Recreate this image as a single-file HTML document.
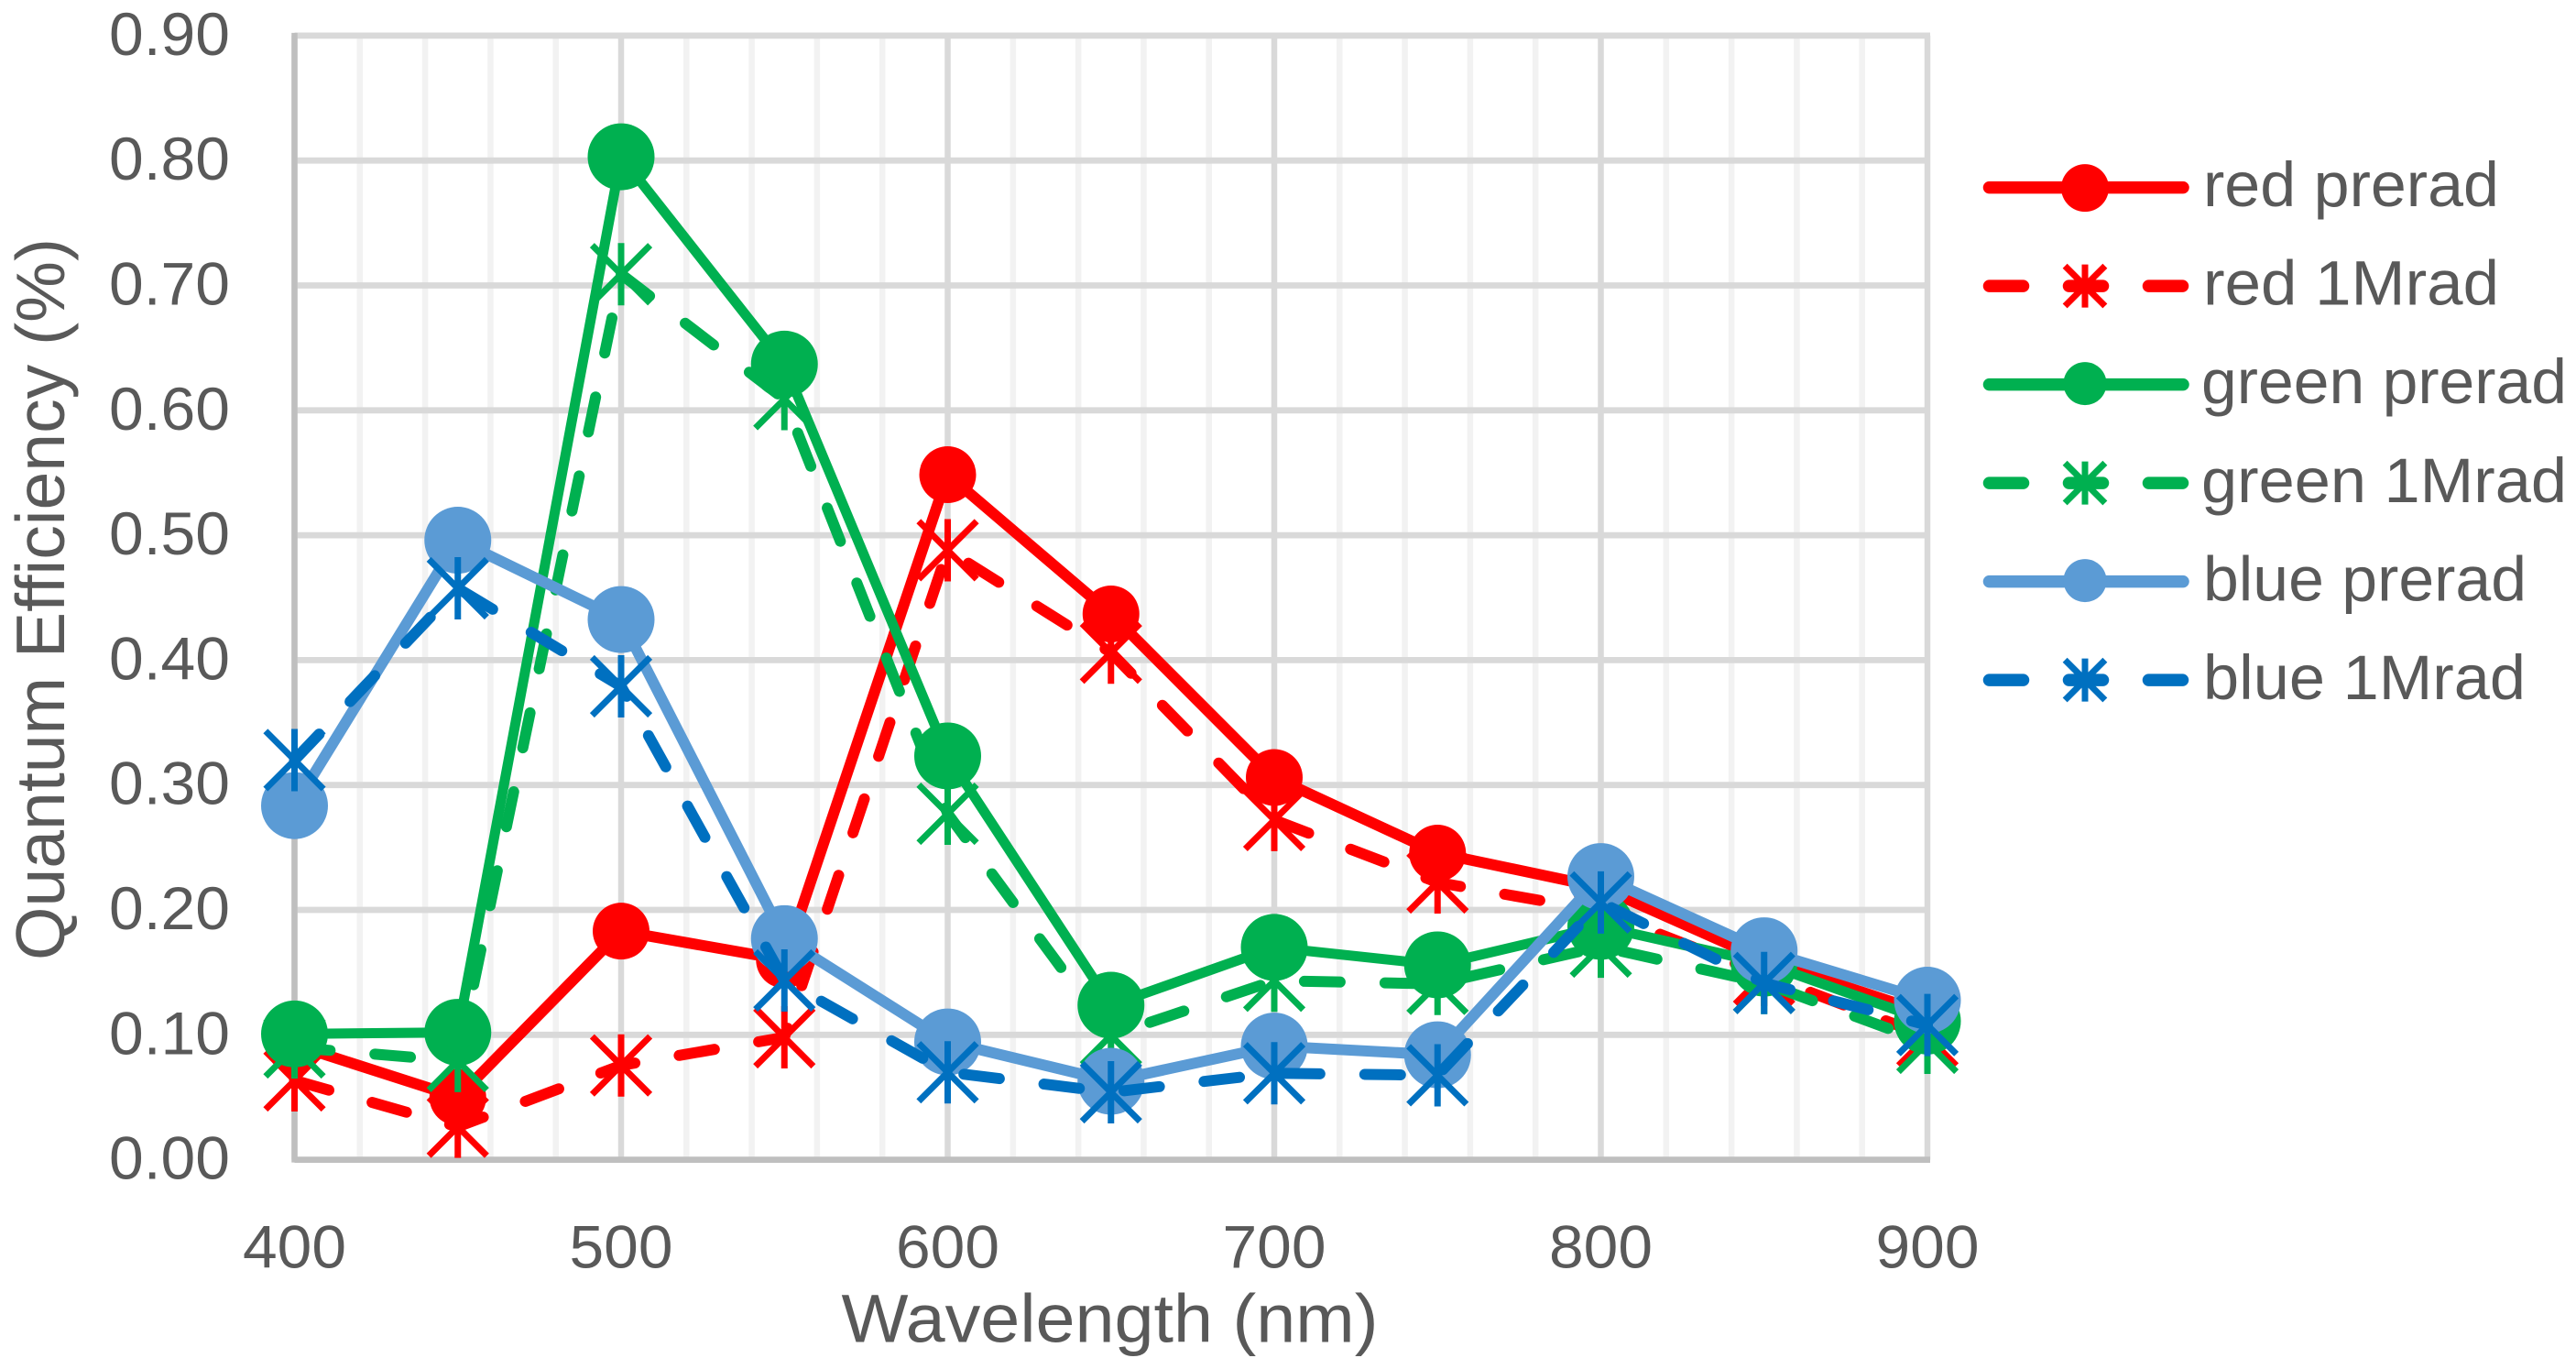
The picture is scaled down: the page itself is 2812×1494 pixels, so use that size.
<!DOCTYPE html>
<html lang="en">
<head>
<meta charset="utf-8">
<title>Quantum Efficiency vs Wavelength</title>
<style>
html,body{margin:0;padding:0;background:#fff;}
body{width:2812px;height:1494px;overflow:hidden;}
svg{display:block;}
text{font-family:"Liberation Sans",sans-serif;fill:#595959;}
</style>
</head>
<body>
<svg id="chart" xmlns="http://www.w3.org/2000/svg" width="2812" height="1494" viewBox="0 0 2812 1494"></svg>
<script>
const wavelengths = [400,450,500,550,600,650,700,750,800,850,900];
const redPrerad   = [0.092,0.050,0.183,0.160,0.5485,0.437,0.306,0.2455,0.218,0.160,0.117];
const red1Mrad    = [0.0635,0.0264,0.0755,0.098,0.488,0.406,0.272,0.222,0.199,0.148,0.0987];
const greenPrerad = [0.1007,0.102,0.803,0.637,0.3233,0.1237,0.170,0.156,0.1868,0.1574,0.111];
const green1Mrad  = [0.0899,0.079,0.709,0.609,0.277,0.0995,0.1433,0.1408,0.1706,0.1415,0.0936];
const bluePrerad  = [0.2835,0.496,0.4325,0.177,0.0943,0.0628,0.091,0.084,0.2267,0.1673,0.1277];
const blue1Mrad   = [0.320,0.4575,0.379,0.1435,0.070,0.054,0.0692,0.0676,0.206,0.1415,0.1078];
const yTicks = [0,0.1,0.2,0.3,0.4,0.5,0.6,0.7,0.8,0.9];
const yTickLabels = ["0.00","0.10","0.20","0.30","0.40","0.50","0.60","0.70","0.80","0.90"];
const xMajorTicks = [400,500,600,700,800,900];
const xTickLabels = ["400","500","600","700","800","900"];
const xMinorTicks = [420,440,460,480,520,540,560,580,620,640,660,680,720,740,760,780,820,840,860,880];
const legendLabels = ["red prerad","red 1Mrad","green prerad","green 1Mrad","blue prerad","blue 1Mrad"];

const NS = "http://www.w3.org/2000/svg";
const svg = document.getElementById("chart");
const X0 = 321.5, XS = 3.565, Y0 = 1265.6, YS = 1363;
function xAxis(v){ return X0 + (v - 400) * XS; }
function yAxis(v){ return Y0 - v * YS; }
function mk(tag, attrs, parent){
  const el = document.createElementNS(NS, tag);
  for (const k in attrs) el.setAttribute(k, attrs[k]);
  (parent || svg).appendChild(el);
  return el;
}
function slug(s){ return s.toLowerCase().replace(/\s+/g,"-"); }

/* minor vertical gridlines */
xMinorTicks.forEach(function(t){
  const el = mk("line",{x1:xAxis(t),x2:xAxis(t),y1:yAxis(0.9),y2:yAxis(0),stroke:"#f2f2f2","stroke-width":6.5});
  
  
});
/* major vertical gridlines */
xMajorTicks.forEach(function(t){
  const el = mk("line",{x1:xAxis(t),x2:xAxis(t),y1:yAxis(0.9),y2:yAxis(0),stroke:"#d9d9d9","stroke-width":6.5});
  
  
});
/* horizontal gridlines */
yTicks.forEach(function(t){
  if (t === 0) return;
  const el = mk("line",{x1:xAxis(400),x2:xAxis(900)+3,y1:yAxis(t),y2:yAxis(t),stroke:"#d9d9d9","stroke-width":6.8});
  
  
});
/* axis lines */
const yAxisLine = mk("line",{x1:xAxis(400),x2:xAxis(400),y1:yAxis(0.9)-3,y2:yAxis(0)+3,stroke:"#bfbfbf","stroke-width":6.5});


const xAxisLine = mk("line",{x1:xAxis(400),x2:xAxis(900)+3,y1:yAxis(0),y2:yAxis(0),stroke:"#bfbfbf","stroke-width":6.8});



/* tick labels */
yTicks.forEach(function(t,i){
  const el = mk("text",{x:119,y:yAxis(t)+21,"font-size":66,textLength:132,lengthAdjust:"spacingAndGlyphs"});
  el.textContent = yTickLabels[i];
  
  
});
xMajorTicks.forEach(function(t,i){
  const el = mk("text",{x:xAxis(t)-56.5,y:1383.6,"font-size":66,textLength:113,lengthAdjust:"spacingAndGlyphs"});
  el.textContent = xTickLabels[i];
  
  
});

/* axis titles */
const xTitle = mk("text",{x:918.5,y:1464.6,"font-size":74,textLength:586,lengthAdjust:"spacingAndGlyphs"});
xTitle.textContent = "Wavelength (nm)";


const yTitle = mk("text",{x:0,y:0,"font-size":75,textLength:788,lengthAdjust:"spacingAndGlyphs",transform:"translate(70 1048) rotate(-90)"});
yTitle.textContent = "Quantum Efficiency (%)";



function drawStar(g, cx, cy, half, sw, color, name){
  const d = "M"+cx+" "+(cy-half)+"V"+(cy+half)+
            "M"+(cx-half*0.93)+" "+(cy-half*0.93)+"L"+(cx+half*0.93)+" "+(cy+half*0.93)+
            "M"+(cx+half*0.93)+" "+(cy-half*0.93)+"L"+(cx-half*0.93)+" "+(cy+half*0.93);
  const el = mk("path",{d:d,fill:"none",stroke:color,"stroke-width":sw},g);
  
  
}

function drawSeries(name, values, color, dashed, radius, width){
  const g = mk("g",{});
  
  
  const pts = values.map(function(v,i){ return xAxis(wavelengths[i]).toFixed(2)+","+yAxis(v).toFixed(2); });
  const attrs = {points:pts.join(" "),fill:"none",stroke:color,"stroke-width":width,"stroke-linejoin":"round","stroke-linecap":"round"};
  if (dashed) attrs["stroke-dasharray"] = "39 49";
  const line = mk("polyline",attrs,g);
  
  
  values.forEach(function(v,i){
    const cx = xAxis(wavelengths[i]), cy = yAxis(v);
    if (dashed){
      drawStar(g, cx, cy, 34, 7, color, name + '-point');
    } else {
      const c = mk("circle",{cx:cx,cy:cy,r:radius,fill:color},g);
      
      
    }
  });
}

drawSeries("red-prerad",   redPrerad,   "#ff0000", false, 31,   12);
drawSeries("red-1mrad",    red1Mrad,    "#ff0000", true,  0,    12);
drawSeries("green-prerad", greenPrerad, "#00b050", false, 36.5, 11);
drawSeries("green-1mrad",  green1Mrad,  "#00b050", true,  0,    12);
drawSeries("blue-prerad",  bluePrerad,  "#5b9bd5", false, 36.5, 12);
drawSeries("blue-1mrad",   blue1Mrad,   "#0070c0", true,  0,    12);

/* legend */
const legendColors = ["#ff0000","#ff0000","#00b050","#00b050","#5b9bd5","#0070c0"];
const legendDashed = [false,true,false,true,false,true];
const legendRadius = [26,0,23.5,0,23.5,0];
const legendTextX  = [2405,2405,2403,2403,2405,2405];
const legendTextW  = [323,323,399,399,353,352];
legendLabels.forEach(function(label,i){
  const cy = 204.6 + i * 107.5;
  const g = mk("g",{});
  
  
  const attrs = {x1:2171.5,x2:2383,y1:cy,y2:cy,stroke:legendColors[i],"stroke-width":13.5,"stroke-linecap":"round"};
  if (legendDashed[i]) attrs["stroke-dasharray"] = "37 50";
  const l = mk("line",attrs,g);
  
  
  if (legendDashed[i]){
    drawStar(g, 2276, cy, 23.5, 7, legendColors[i], 'legend-marker');
  } else {
    const c = mk("circle",{cx:2276,cy:cy-(i===0?-0.5:1),r:legendRadius[i],fill:legendColors[i]},g);
    
    
  }
  const t = mk("text",{x:legendTextX[i],y:225 + i * 107.6,"font-size":69,textLength:legendTextW[i],lengthAdjust:"spacingAndGlyphs"},g);
  t.textContent = label;
  
  
});
</script>
</body>
</html>
